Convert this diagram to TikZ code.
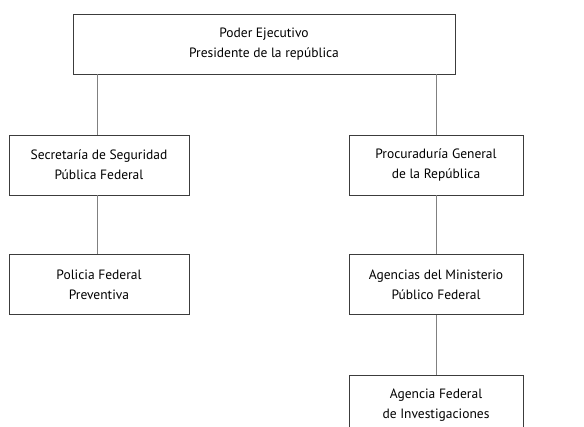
\documentclass[tikz,border=0pt]{standalone}
\usepackage{fontspec}
\setmainfont{PT Sans}
\usetikzlibrary{positioning}
\definecolor{bx}{RGB}{60,60,60}
\definecolor{ln}{RGB}{128,128,128}

\begin{document}
\begin{tikzpicture}[
    x=1pt, y=1pt,
    font=\fontsize{13.5}{20}\selectfont,
    l/.style={
        line width=0.8pt,
        color=ln
    },
    e/.style={
        draw=bx, line width=0.8pt, align=center,
        minimum height=60pt, inner sep=0pt
    },
    e1/.style={e, minimum width=180pt},
    e2/.style={e, minimum width=174pt}
]
\useasboundingbox (0,0) rectangle (584,-426);
\clip (0,0) rectangle (584,-426);

\node [e, minimum width=382pt] (PE) at (264,-44) {Poder Ejecutivo\\Presidente de la república};
\node [e1] (SSP) at (99,-165) {Secretaría de Seguridad\\Pública Federal};
\node [e2] (PGR) at (436,-165) {Procuraduría General\\de la República};
\node [e1,below=59pt of SSP] (PFP) {Policia Federal\\Preventiva};
\node [e2,below=59pt of PGR] (AMP) {Agencias del Ministerio\\Público Federal};
\node [e2,below=60pt of AMP] (AFI) {Agencia Federal\\de Investigaciones};

\draw [l] ([xshift=-2pt]SSP.north) -- ([xshift=-2pt]SSP.north |- PE.south);
\draw [l] (PGR.north) -- (PGR.north |- PE.south);
\draw [l] ([xshift=-2pt]SSP.south) -- ([xshift=-2pt]PFP.north);
\draw [l] (PGR.south) -- (AMP.north);
\draw [l] (AMP.south) -- (AFI.north);

\end{tikzpicture}
\end{document}
